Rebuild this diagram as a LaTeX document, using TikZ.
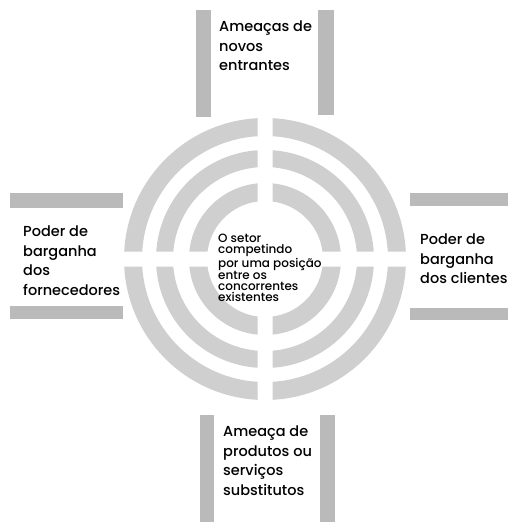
\documentclass[tikz,border=0pt]{standalone}
\usepackage{fontspec}
\IfFontExistsTF{Poppins Medium}{\setmainfont{Poppins Medium}}{\setmainfont{Poppins}[FakeBold=0.6]}
\tikzset{
  ring/.style={fill=black!19},
  bar/.style={fill=black!27},
  lbl/.style={anchor=north west, inner sep=0pt, align=left, font=\fontsize{14.5}{19.5}\selectfont},
  ctr/.style={anchor=north west, inner sep=0pt, align=left, font=\fontsize{12}{11}\selectfont}
}
\begin{document}
\begin{tikzpicture}[x=1pt,y=-1pt]
\useasboundingbox (0,0) rectangle (508,522);
\fill[white] (0,0) rectangle (508,522);
% rings
\begin{scope}
\clip (0,0) rectangle (257.5,251.5) (272.5,0) rectangle (508,251.5)
      (0,266.5) rectangle (257.5,522) (272.5,266.5) rectangle (508,522);
\fill[ring, even odd rule] (265,259) circle (141pt) circle (123pt)
  circle (109pt) circle (92pt) circle (76pt) circle (58pt);
\end{scope}
% arms
\fill[bar] (196,10) rectangle (211,117);
\fill[bar] (318,10) rectangle (334,115);
\fill[bar] (200,415) rectangle (214,522);
\fill[bar] (320,415) rectangle (335,522);
\fill[bar] (10,193) rectangle (123,208);
\fill[bar] (10,306) rectangle (123,319);
\fill[bar] (410,193) rectangle (508,206);
\fill[bar] (410,308) rectangle (508,320);
% texts
\node[lbl] (top) at (219,21) {Ameaças de\\novos\\entrantes};
\node[lbl] (left) at (23,226) {Poder de\\barganha\\dos\\fornecedores};
\node[lbl] (right) at (420,234) {Poder de\\barganha\\dos clientes};
\node[lbl] (bottom) at (223,426) {Ameaça de\\produtos ou\\serviços\\substitutos};
\node[ctr] (center) at (218,234) {O setor\\competindo\\por uma posição\\entre os\\concorrentes\\existentes};
\end{tikzpicture}
\end{document}
